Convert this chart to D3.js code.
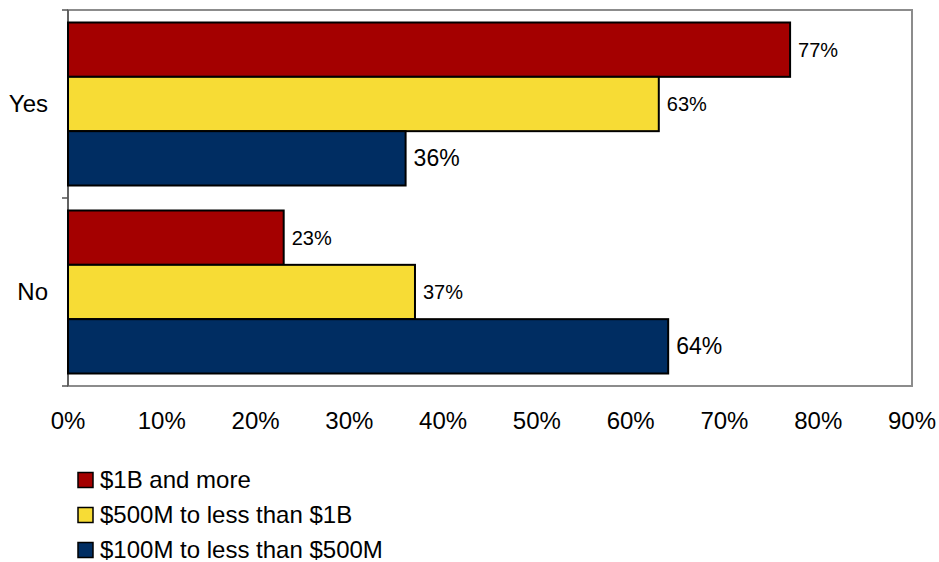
<!DOCTYPE html>
<html>
<head>
<meta charset="utf-8">
<script src="https://cdn.jsdelivr.net/npm/d3@7"></script>
<style>
  body { margin: 0; background: #fff; }
  text { font-family: "Liberation Sans", Arial, sans-serif; }
</style>
</head>
<body>
<div id="chart"></div>
<script>
// data
const categories = ["Yes", "No"];
const seriesNames = ["$1B and more", "$500M to less than $1B", "$100M to less than $500M"];
const seriesColors = ["#a40000", "#f7dc35", "#002d62"];
const values = [
    [77, 23],   // $1B and more
    [63, 37],   // $500M to less than $1B
    [36, 64]    // $100M to less than $500M
];
const xTicks = [0, 10, 20, 30, 40, 50, 60, 70, 80, 90];

const width = 939, height = 562;
const margin = {left: 68, right: 27, top: 10, bottom: 176};

const svg = d3.select("#chart").append("svg")
    .attr("width", width)
    .attr("height", height);

const x = d3.scaleLinear()
    .domain([0, 90])
    .range([margin.left, width - margin.right]);

const y = d3.scaleBand()
    .domain(categories)
    .range([margin.top, height - margin.bottom]);

const y1 = d3.scaleBand()
    .domain(d3.range(seriesNames.length))
    .range([0, y.bandwidth()])
    .paddingOuter(0.23);

// plot frame
svg.append("rect")
    .attr("x", x(0))
    .attr("y", margin.top)
    .attr("width", x(90) - x(0))
    .attr("height", height - margin.bottom - margin.top)
    .attr("fill", "none")
    .attr("stroke", "#8c8c8c")
    .attr("stroke-width", 2);

// left axis line + ticks
svg.append("line")
    .attr("x1", x(0)).attr("x2", x(0))
    .attr("y1", margin.top).attr("y2", height - margin.bottom)
    .attr("stroke", "#555").attr("stroke-width", 1.5);

const tickYs = [margin.top].concat(categories.map(c => y(c) + y.bandwidth()));
svg.selectAll(".ytick")
    .data(tickYs)
    .enter().append("line")
    .attr("x1", x(0) - 6).attr("x2", x(0))
    .attr("y1", d => d).attr("y2", d => d)
    .attr("stroke", "#555").attr("stroke-width", 1.5);

// category labels
svg.selectAll(".ylab")
    .data(categories)
    .enter().append("text")
    .attr("x", 48)
    .attr("y", d => y(d) + y.bandwidth() / 2)
    .attr("dy", "0.35em")
    .attr("text-anchor", "end")
    .attr("font-size", 24)
    .text(d => d);

// x tick labels
svg.selectAll(".xlab")
    .data(xTicks)
    .enter().append("text")
    .attr("x", d => x(d))
    .attr("y", 421)
    .attr("dy", "0.35em")
    .attr("text-anchor", "middle")
    .attr("font-size", 24)
    .text(d => d + "%");

// bars
const groups = svg.selectAll(".series")
    .data(values)
    .enter().append("g")
    .attr("fill", (d, i) => seriesColors[i]);

groups.each(function(row, si) {
    const g = d3.select(this);
    g.selectAll("rect")
        .data(row)
        .enter().append("rect")
        .attr("x", x(0))
        .attr("y", (d, ci) => y(categories[ci]) + y1(si))
        .attr("width", d => x(d) - x(0))
        .attr("height", y1.bandwidth())
        .attr("stroke", "#000")
        .attr("stroke-width", 2);

    g.selectAll("text")
        .data(row)
        .enter().append("text")
        .attr("x", d => x(d) + 8)
        .attr("y", (d, ci) => y(categories[ci]) + y1(si) + y1.bandwidth() / 2)
        .attr("dy", "0.35em")
        .attr("fill", "#000")
        .attr("font-size", si === 2 ? 23 : 20)
        .text(d => d + "%");
});

// legend
const legend = svg.selectAll(".legend")
    .data(seriesNames)
    .enter().append("g")
    .attr("transform", (d, i) => `translate(78, ${480 + i * 35})`);

legend.append("rect")
    .attr("x", 0).attr("y", -7.5)
    .attr("width", 15).attr("height", 15)
    .attr("fill", (d, i) => seriesColors[i])
    .attr("stroke", "#000")
    .attr("stroke-width", 1.5);

legend.append("text")
    .attr("x", 22)
    .attr("dy", "0.35em")
    .attr("font-size", 24)
    .text(d => d);
</script>
</body>
</html>
